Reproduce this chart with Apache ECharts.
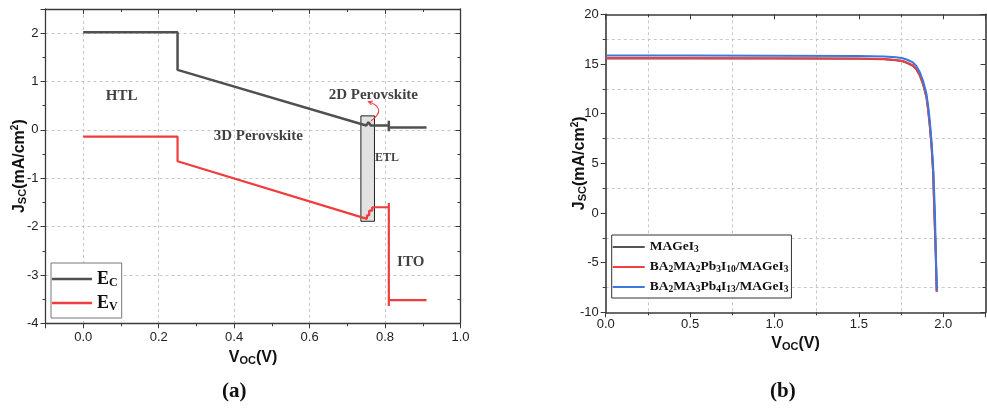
<!DOCTYPE html>
<html><head><meta charset="utf-8">
<script src="https://cdn.jsdelivr.net/npm/echarts@6/dist/echarts.min.js"></script>
<style>html,body{margin:0;padding:0;background:#fff}#c{width:987px;height:409px}</style>
</head><body><div id="c"></div>
<script>
// ---------- panel (a): band diagram ----------
const ecX = [0, 0.25, 0.25, 0.75, 0.756, 0.762, 0.81, 0.81, 0.81, 0.81, 0.91];
const ecY = [2.02, 2.02, 1.24, 0.09, 0.16, 0.09, 0.09, 0.19, -0.03, 0.05, 0.05];
const evX = [0, 0.25, 0.25, 0.752, 0.752, 0.758, 0.758, 0.766, 0.766, 0.81, 0.81, 0.81, 0.81, 0.91];
const evY = [-0.14, -0.14, -0.65, -1.84, -1.77, -1.77, -1.67, -1.67, -1.6, -1.6, -1.51, -3.64, -3.52, -3.52];
const boxCorners = [[0.736, 0.29], [0.772, -1.89]];
const arrowFrom = [0.763, 0.186];
const arrowTo = [0.756, 0.585];
const annotText = ['HTL', '3D Perovskite', '2D Perovskite', 'ETL', 'ITO'];
const annotX = [0.102, 0.464, 0.769, 0.805, 0.868];
const annotY = [0.69, -0.12, 0.72, -0.585, -2.73];
const seriesA = ['E_C', 'E_V'];

// ---------- panel (b): J-V curves ----------
const seriesB = ['MAGeI3', 'BA2MA2Pb3I10/MAGeI3', 'BA2MA3Pb4I13/MAGeI3'];
const vGray = [0, 0.5, 1.0, 1.5, 1.65, 1.72, 1.76, 1.79, 1.82, 1.84, 1.86, 1.88, 1.9, 1.91, 1.92, 1.93, 1.94, 1.947, 1.955, 1.961];
const jGray = [15.56, 15.56, 15.55, 15.52, 15.47, 15.37, 15.27, 15.07, 14.82, 14.47, 13.87, 12.97, 11.67, 10.37, 8.77, 6.8, 4.0, 0, -4.0, -7.9];
const vRed = [0, 0.5, 1.0, 1.5, 1.65, 1.72, 1.76, 1.79, 1.82, 1.84, 1.86, 1.88, 1.9, 1.91, 1.92, 1.93, 1.94, 1.947, 1.955, 1.961];
const jRed = [15.6, 15.6, 15.58, 15.55, 15.5, 15.4, 15.3, 15.1, 14.85, 14.5, 13.9, 13.0, 11.7, 10.4, 8.8, 6.85, 4.05, 0, -4.0, -7.95];
const vBlue = [0, 0.5, 1.0, 1.5, 1.65, 1.72, 1.76, 1.79, 1.82, 1.84, 1.86, 1.88, 1.9, 1.91, 1.92, 1.93, 1.94, 1.95, 1.955, 1.962];
const jBlue = [15.85, 15.85, 15.83, 15.8, 15.75, 15.68, 15.58, 15.4, 15.15, 14.8, 14.2, 13.3, 12.0, 10.8, 9.3, 7.2, 4.6, 0.3, -3.5, -7.8];

const zip = (xs, ys) => xs.map((x, i) => [x, ys[i]]);

const AX = '#3a3a3a';
const TICKLBL = { color: '#222', fontFamily: 'Liberation Sans, Arial', fontSize: 13 };
const GRIDLINE = { show: true, lineStyle: { color: '#c8c8c8', type: [3, 3], width: 1 } };
const serif = 'Liberation Serif, Times New Roman, serif';
const titleRich = {
  m: { fontFamily: 'Liberation Sans, Arial', fontWeight: 'bold', fontSize: 16, color: '#111', lineHeight: 20 },
  s: { fontFamily: 'Liberation Sans, Arial', fontWeight: 'bold', fontSize: 11, color: '#111', lineHeight: 20, padding: [7, 0, 0, 0] },
  p: { fontFamily: 'Liberation Sans, Arial', fontWeight: 'bold', fontSize: 10, color: '#111', lineHeight: 20, padding: [0, 0, 8, 0] }
};
const jName = '{m|J}{s|SC}{m|(mA/cm}{p|2}{m|)}';
const vName = '{m|V}{s|OC}{m|(V)}';

function legendFmt(n) {
  const map = {
    'E_C': '{b|E}{s|C}',
    'E_V': '{b|E}{s|V}',
    'MAGeI3': '{c|MAGeI}{t|3}',
    'BA2MA2Pb3I10/MAGeI3': '{c|BA}{t|2}{c|MA}{t|2}{c|Pb}{t|3}{c|I}{t|10}{c|/MAGeI}{t|3}',
    'BA2MA3Pb4I13/MAGeI3': '{c|BA}{t|2}{c|MA}{t|3}{c|Pb}{t|4}{c|I}{t|13}{c|/MAGeI}{t|3}'
  };
  return map[n] || n;
}
const legendRich = {
  b: { fontFamily: serif, fontWeight: 'bold', fontSize: 18, color: '#111', lineHeight: 20 },
  s: { fontFamily: serif, fontWeight: 'bold', fontSize: 12, color: '#111', lineHeight: 20, padding: [8, 0, 0, 0] },
  c: { fontFamily: serif, fontWeight: 'bold', fontSize: 13.5, color: '#111', lineHeight: 16 },
  t: { fontFamily: serif, fontWeight: 'bold', fontSize: 9.5, color: '#111', lineHeight: 16, padding: [6, 0, 0, 0] }
};

const annotData = annotText.map((t, i) => ({
  name: t, value: [annotX[i], annotY[i]],
  label: { fontSize: t === 'ETL' ? 12 : 15 }
}));

const chart = echarts.init(document.getElementById('c'), null, { renderer: 'canvas' });
chart.setOption({
  animation: false,
  backgroundColor: '#fff',
  grid: [
    { left: 45.5, top: 9, width: 415, height: 314.3, containLabel: false },
    { left: 605.7, top: 14.3, width: 379.8, height: 298, containLabel: false }
  ],
  xAxis: [
    { gridIndex: 0, type: 'value', min: -0.1, max: 1.0, splitNumber: 5, position: 'bottom',
      axisLine: { show: true, onZero: false, lineStyle: { color: AX, width: 1.3 } },
      axisTick: { show: true, inside: false, length: 5, lineStyle: { color: AX } },
      minorTick: { show: true, splitNumber: 2, length: 3, lineStyle: { color: AX } },
      axisLabel: Object.assign({ margin: 8, showMinLabel: false, formatter: v => v.toFixed(1) }, TICKLBL),
      splitLine: GRIDLINE,
      name: vName, nameLocation: 'middle', nameGap: 24, nameMoveOverlap: false, nameTextStyle: { rich: titleRich } },
    { gridIndex: 0, type: 'value', min: -0.1, max: 1.0, splitNumber: 5, position: 'top',
      axisLine: { show: true, onZero: false, lineStyle: { color: AX, width: 1.3 } },
      axisTick: { show: true, inside: true, length: 5, lineStyle: { color: AX } },
      minorTick: { show: true, splitNumber: 2, length: 3, lineStyle: { color: AX } },
      axisLabel: { show: false }, splitLine: { show: false } },
    { gridIndex: 1, type: 'value', min: 0, max: 2.25, interval: 0.5, position: 'bottom',
      axisLine: { show: true, onZero: false, lineStyle: { color: AX, width: 1.6 } },
      axisTick: { show: true, inside: false, length: 5, lineStyle: { color: AX } },
      minorTick: { show: true, splitNumber: 2, length: 3, lineStyle: { color: AX } },
      minorSplitLine: GRIDLINE,
      axisLabel: Object.assign({ margin: 6, showMaxLabel: false, formatter: v => v.toFixed(1) }, TICKLBL),
      splitLine: { show: false },
      name: vName, nameLocation: 'middle', nameGap: 21, nameMoveOverlap: false, nameTextStyle: { rich: titleRich } },
    { gridIndex: 1, type: 'value', min: 0, max: 2.25, interval: 0.5, position: 'top',
      axisLine: { show: true, onZero: false, lineStyle: { color: AX, width: 1.6 } },
      axisTick: { show: true, inside: true, length: 5, lineStyle: { color: AX } },
      minorTick: { show: true, splitNumber: 2, length: 3, lineStyle: { color: AX } },
      axisLabel: { show: false }, splitLine: { show: false } }
  ],
  yAxis: [
    { gridIndex: 0, type: 'value', min: -4, max: 2.5, interval: 1, position: 'left',
      axisLine: { show: true, onZero: false, lineStyle: { color: AX, width: 1.3 } },
      axisTick: { show: true, inside: false, length: 5, lineStyle: { color: AX } },
      minorTick: { show: true, splitNumber: 2, length: 3, lineStyle: { color: AX } },
      axisLabel: Object.assign({ margin: 7, showMaxLabel: false }, TICKLBL),
      splitLine: GRIDLINE,
      name: jName, nameLocation: 'middle', nameGap: 16, nameRotate: 90, nameMoveOverlap: false, nameTextStyle: { rich: titleRich } },
    { gridIndex: 0, type: 'value', min: -4, max: 2.5, interval: 1, position: 'right',
      axisLine: { show: true, onZero: false, lineStyle: { color: AX, width: 1.3 } },
      axisTick: { show: true, inside: true, length: 5, lineStyle: { color: AX } },
      minorTick: { show: true, splitNumber: 2, length: 3, lineStyle: { color: AX } },
      axisLabel: { show: false }, splitLine: { show: false } },
    { gridIndex: 1, type: 'value', min: -10, max: 20, interval: 5, position: 'left',
      axisLine: { show: true, onZero: false, lineStyle: { color: AX, width: 1.6 } },
      axisTick: { show: true, inside: false, length: 5, lineStyle: { color: AX } },
      minorTick: { show: true, splitNumber: 2, length: 3, lineStyle: { color: AX } },
      minorSplitLine: GRIDLINE,
      axisLabel: Object.assign({ margin: 7 }, TICKLBL),
      splitLine: { show: false },
      name: jName, nameLocation: 'middle', nameGap: 16, nameRotate: 90, nameMoveOverlap: false, nameTextStyle: { rich: titleRich } },
    { gridIndex: 1, type: 'value', min: -10, max: 20, interval: 5, position: 'right',
      axisLine: { show: true, onZero: false, lineStyle: { color: AX, width: 1.6 } },
      axisTick: { show: true, inside: true, length: 5, lineStyle: { color: AX } },
      minorTick: { show: true, splitNumber: 2, length: 3, lineStyle: { color: AX } },
      axisLabel: { show: false }, splitLine: { show: false } }
  ],
  legend: [
    { data: seriesA.map(n => ({ name: n, icon: 'rect' })), orient: 'vertical', left: 51, top: 263,
      itemWidth: 40, itemHeight: 2.5, itemGap: 4,
      padding: [6, 4, 5, 1], borderColor: '#777', borderWidth: 1, backgroundColor: '#fff',
      formatter: legendFmt, textStyle: { rich: legendRich }, selectedMode: false },
    { data: seriesB.map(n => ({ name: n, icon: 'rect' })), orient: 'vertical', left: 611.7, top: 235,
      itemWidth: 32, itemHeight: 2, itemGap: 4,
      padding: [4, 3, 3, 1], borderColor: '#333', borderWidth: 1, backgroundColor: '#fff',
      formatter: legendFmt, textStyle: { rich: legendRich }, selectedMode: false }
  ],
  series: [
    { name: 'E_C', type: 'line', xAxisIndex: 0, yAxisIndex: 0, data: zip(ecX, ecY), symbol: 'none',
      lineStyle: { color: '#505050', width: 2.5 }, itemStyle: { color: '#505050' }, z: 3,
      markArea: { silent: true, itemStyle: { color: '#e2e2e2', borderColor: '#222', borderWidth: 1 },
        data: [[{ coord: boxCorners[0] }, { coord: boxCorners[1] }]] } },
    { name: 'E_V', type: 'line', xAxisIndex: 0, yAxisIndex: 0, data: zip(evX, evY), symbol: 'none',
      lineStyle: { color: '#f03c3c', width: 2.2 }, itemStyle: { color: '#f03c3c' }, z: 3 },
    { name: 'annot', type: 'scatter', xAxisIndex: 0, yAxisIndex: 0, symbolSize: 0, data: annotData, z: 5,
      label: { show: true, position: 'inside', formatter: '{b}', fontFamily: serif, fontWeight: 'bold', color: '#111' } },
    { name: seriesB[0], type: 'line', xAxisIndex: 2, yAxisIndex: 2, data: zip(vGray, jGray), symbol: 'none',
      lineStyle: { color: '#555555', width: 2 }, itemStyle: { color: '#555555' } },
    { name: seriesB[1], type: 'line', xAxisIndex: 2, yAxisIndex: 2, data: zip(vRed, jRed), symbol: 'none',
      lineStyle: { color: '#ee4040', width: 2 }, itemStyle: { color: '#ee4040' } },
    { name: seriesB[2], type: 'line', xAxisIndex: 2, yAxisIndex: 2, data: zip(vBlue, jBlue), symbol: 'none',
      lineStyle: { color: '#3a78e0', width: 2 }, itemStyle: { color: '#3a78e0' } }
  ]
});

// curved red arrow from the 2D-perovskite layer to its label, placed via the axes
const p0 = chart.convertToPixel({ gridIndex: 0 }, arrowFrom);
const p1 = chart.convertToPixel({ gridIndex: 0 }, arrowTo);
const mx = (p0[0] + p1[0]) / 2, my = (p0[1] + p1[1]) / 2;
const dx = p1[0] - p0[0], dy = p1[1] - p0[1];
const len = Math.hypot(dx, dy);
const cp = [mx - dy / len * 18, my + dx / len * 18];
const ang = Math.atan2(p1[1] - cp[1], p1[0] - cp[0]);
const ah = 4.5, spread = 0.5;
const a1 = [p1[0] - ah * Math.cos(ang - spread), p1[1] - ah * Math.sin(ang - spread)];
const a2 = [p1[0] - ah * Math.cos(ang + spread), p1[1] - ah * Math.sin(ang + spread)];

chart.setOption({
  graphic: [
    { id: 'lblA', type: 'text', left: 222, top: 381, style: { text: '(a)', font: 'bold 21px Liberation Serif', fill: '#111' } },
    { id: 'lblB', type: 'text', left: 770, top: 381, style: { text: '(b)', font: 'bold 21px Liberation Serif', fill: '#111' } },
    { id: 'arc', type: 'bezierCurve', z: 10, shape: { x1: p0[0], y1: p0[1], x2: p1[0], y2: p1[1], cpx1: cp[0], cpy1: cp[1] },
      style: { stroke: '#f03c3c', lineWidth: 1.1, fill: null } },
    { id: 'head', type: 'polyline', z: 10, shape: { points: [a1, p1, a2] },
      style: { stroke: '#f03c3c', lineWidth: 1.1, fill: null } }
  ]
});
</script></body></html>
